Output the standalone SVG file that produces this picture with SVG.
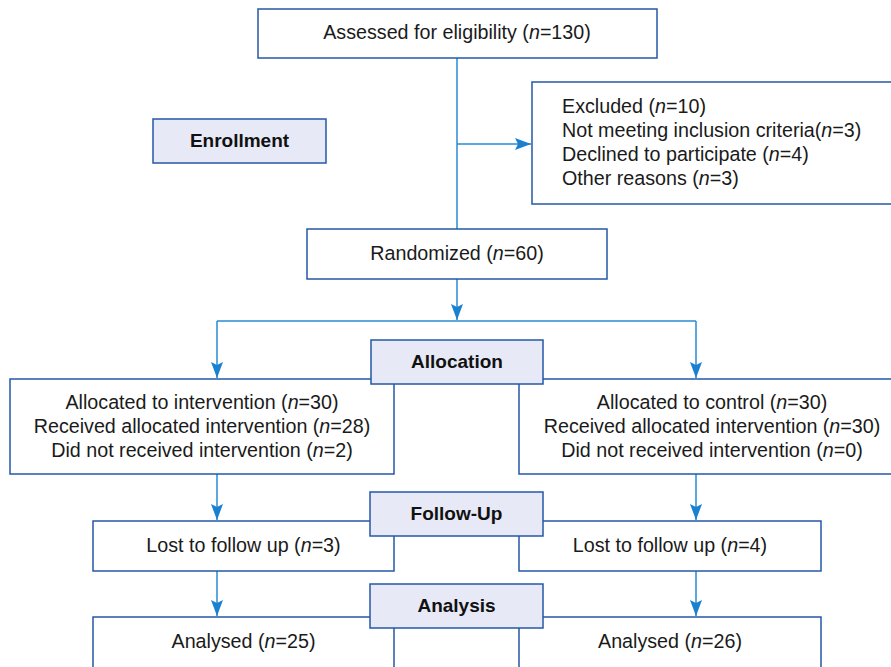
<svg xmlns="http://www.w3.org/2000/svg" width="891" height="667" viewBox="0 0 891 667">
<defs>
<style>
.box{fill:#ffffff;stroke:#2458a6;stroke-width:1.5}
.hdr{fill:#e7e9f6;stroke:#2458a6;stroke-width:1.5}
.t{font-family:"Liberation Sans",Arial,sans-serif;font-size:19.7px;fill:#1a1a1a}
.c{text-anchor:middle}
.b{font-family:"Liberation Sans",Arial,sans-serif;font-size:19px;font-weight:bold;fill:#111;text-anchor:middle}
.ln{fill:none;stroke:#2a8ad4;stroke-width:1.5}
</style>
<marker id="arr" viewBox="0 0 16 12" refX="16" refY="6" markerWidth="16" markerHeight="12" markerUnits="userSpaceOnUse" orient="auto">
<path d="M0,0 L16,6 L0,12 L3,6 z" fill="#1a80d0"/>
</marker>
</defs>
<rect width="891" height="667" fill="#ffffff"/>
<g id="connectors">
<path class="ln" d="M457,58 V229"/>
<path class="ln" d="M457,144 H531" marker-end="url(#arr)"/>
<path class="ln" d="M457,279 V320" marker-end="url(#arr)"/>
<path class="ln" d="M217,321 H696"/>
<path class="ln" d="M217,321 V378" marker-end="url(#arr)"/>
<path class="ln" d="M696,321 V378" marker-end="url(#arr)"/>
<path class="ln" d="M217,474 V520" marker-end="url(#arr)"/>
<path class="ln" d="M696,474 V520" marker-end="url(#arr)"/>
<path class="ln" d="M217,571 V616" marker-end="url(#arr)"/>
<path class="ln" d="M696,571 V616" marker-end="url(#arr)"/>
</g>
<g id="assessed">
<rect class="box" x="258" y="9" width="399" height="49"/>
<text class="t c" x="457" y="39">Assessed for eligibility (<tspan font-style="italic">n</tspan>=130)</text>
</g>
<g id="excluded">
<rect class="box" x="532" y="82" width="380" height="122"/>
<text class="t" x="562" y="113">Excluded (<tspan font-style="italic">n</tspan>=10)</text>
<text class="t" x="562" y="137">Not meeting inclusion criteria(<tspan font-style="italic">n</tspan>=3)</text>
<text class="t" x="562" y="161">Declined to participate (<tspan font-style="italic">n</tspan>=4)</text>
<text class="t" x="562" y="185">Other reasons (<tspan font-style="italic">n</tspan>=3)</text>
</g>
<g id="enrollment">
<rect class="hdr" x="153" y="119" width="173" height="44"/>
<text class="b" x="239.5" y="147">Enrollment</text>
</g>
<g id="randomized">
<rect class="box" x="307" y="229" width="300" height="50"/>
<text class="t c" x="457" y="260">Randomized (<tspan font-style="italic">n</tspan>=60)</text>
</g>
<g id="alloc-left">
<rect class="box" x="10" y="379" width="384" height="95"/>
<text class="t c" x="202" y="409">Allocated to intervention (<tspan font-style="italic">n</tspan>=30)</text>
<text class="t c" x="202" y="433">Received allocated intervention (<tspan font-style="italic">n</tspan>=28)</text>
<text class="t c" x="202" y="457">Did not received intervention (<tspan font-style="italic">n</tspan>=2)</text>
</g>
<g id="alloc-right">
<rect class="box" x="519" y="379" width="386" height="95"/>
<text class="t c" x="712" y="409">Allocated to control (<tspan font-style="italic">n</tspan>=30)</text>
<text class="t c" x="712" y="433">Received allocated intervention (<tspan font-style="italic">n</tspan>=30)</text>
<text class="t c" x="712" y="457">Did not received intervention (<tspan font-style="italic">n</tspan>=0)</text>
</g>
<g id="allocation">
<rect class="hdr" x="371" y="340" width="172" height="44"/>
<text class="b" x="457" y="368">Allocation</text>
</g>
<g id="lost-left">
<rect class="box" x="93" y="521" width="301" height="50"/>
<text class="t c" x="243.5" y="552">Lost to follow up (<tspan font-style="italic">n</tspan>=3)</text>
</g>
<g id="lost-right">
<rect class="box" x="519" y="521" width="302" height="50"/>
<text class="t c" x="670" y="552">Lost to follow up (<tspan font-style="italic">n</tspan>=4)</text>
</g>
<g id="followup">
<rect class="hdr" x="370" y="492" width="173" height="44"/>
<text class="b" x="456.5" y="520">Follow-Up</text>
</g>
<g id="analysed-left">
<rect class="box" x="93" y="617" width="301" height="70"/>
<text class="t c" x="243.5" y="648">Analysed (<tspan font-style="italic">n</tspan>=25)</text>
</g>
<g id="analysed-right">
<rect class="box" x="519" y="617" width="302" height="70"/>
<text class="t c" x="670" y="648">Analysed (<tspan font-style="italic">n</tspan>=26)</text>
</g>
<g id="analysis">
<rect class="hdr" x="370" y="584" width="173" height="44"/>
<text class="b" x="456.5" y="612">Analysis</text>
</g>
</svg>
